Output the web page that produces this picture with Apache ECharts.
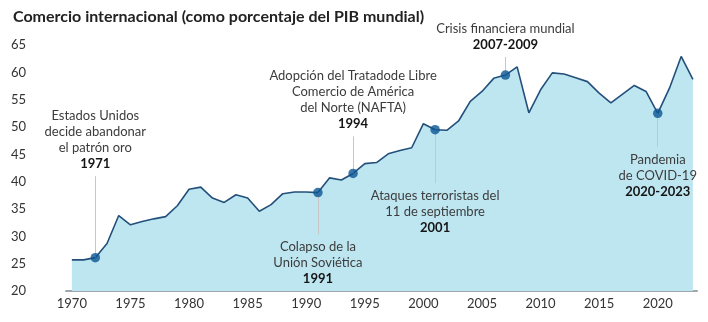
<!DOCTYPE html>
<html>
<head>
<meta charset="utf-8">
<script src="https://cdn.jsdelivr.net/npm/echarts@6/dist/echarts.min.js"></script>
<style>
html,body{margin:0;padding:0;background:#fff;}
#c{width:708px;height:322px;}
</style>
</head>
<body>
<div id="c"></div>
<script>
const years = [1970,1971,1972,1973,1974,1975,1976,1977,1978,1979,
  1980,1981,1982,1983,1984,1985,1986,1987,1988,1989,
  1990,1991,1992,1993,1994,1995,1996,1997,1998,1999,
  2000,2001,2002,2003,2004,2005,2006,2007,2008,2009,
  2010,2011,2012,2013,2014,2015,2016,2017,2018,2019,
  2020,2021,2022,2023];
const tradePct = [25.7,25.7,26.1,28.7,33.8,32.1,32.7,33.2,33.6,35.6,
  38.6,39.0,37.0,36.2,37.6,37.0,34.6,35.8,37.8,38.1,
  38.1,38.0,40.7,40.3,41.5,43.3,43.5,45.1,45.7,46.2,
  50.6,49.5,49.4,51.1,54.7,56.5,58.9,59.5,61.0,52.6,
  56.8,59.9,59.7,59.0,58.3,56.2,54.4,56.0,57.6,56.5,
  52.5,57.1,62.9,58.7];
const xTickLabels = [1970,1975,1980,1985,1990,1995,2000,2005,2010,2015,2020];
const yTicks = [20,25,30,35,40,45,50,55,60,65];

const eventYears = [1972,1991,1994,2001,2007,2020];
const eventLines = [
  ['Estados Unidos','decide abandonar','el patrón oro'],
  ['Colapso de la','Unión Soviética'],
  ['Adopción del Tratadode Libre','Comercio de América','del Norte (NAFTA)'],
  ['Ataques terroristas del','11 de septiembre'],
  ['Crisis financiera mundial'],
  ['Pandemia','de COVID-19']
];
const eventLabels = ['1971','1991','1994','2001','2007-2009','2020-2023'];

// layout of leaders (label side and leader end, in axis units)
const eventSide = ['up','down','up','down','up','down'];
const leaderEnd = [41.0,30.4,48.3,39.7,62.8,46.3];

const FONT = 'Lato';
const seriesData = years.map((y,i)=>[y,tradePct[i]]);
const dotData = eventYears.map(y=>[y,tradePct[years.indexOf(y)]]);

const markLines = dotData.map((d,i)=>[{coord:[d[0],d[1]]},{coord:[d[0],leaderEnd[i]]}]);
const markPoints = dotData.map((d,i)=>{
  const up = eventSide[i]==='up';
  let txt = eventLines[i].map(s=>'{n|'+s+'}').join('\n') + '\n{b|'+eventLabels[i]+'}';
  return {
    coord:[d[0],leaderEnd[i]],
    symbol:'circle', symbolSize:1,
    itemStyle:{color:'rgba(0,0,0,0)'},
    label:{
      show:true, position: up?'top':'bottom', distance:4,
      formatter: txt, align:'center',
      rich:{
        n:{fontFamily:FONT,fontSize:13,color:'#3c3c3c',lineHeight:16,align:'center'},
        b:{fontFamily:FONT,fontSize:13,fontWeight:'bold',color:'#151515',lineHeight:16,align:'center'}
      }
    }
  };
});

const chart = echarts.init(document.getElementById('c'), null, {renderer:'canvas'});
chart.setOption({
  animation:false,
  backgroundColor:'#ffffff',
  title:{
    text:'Comercio internacional (como porcentaje del PIB mundial)',
    left:8, top:4,
    textStyle:{fontFamily:FONT,fontSize:16,fontWeight:'bold',color:'#222'}
  },
  grid:{left:66,right:11,top:45,bottom:31,containLabel:false},
  xAxis:{
    type:'value', min:1969.5, max:2023.35,
    axisLine:{show:true,lineStyle:{color:'#9ea7ac',width:2}},
    axisTick:{show:false},
    splitLine:{show:false},
    axisLabel:{
      customValues:xTickLabels,
      fontFamily:FONT,fontSize:13,color:'#333',margin:6,
      formatter:v=>String(v)
    }
  },
  yAxis:{
    type:'value', min:20, max:65, interval:5,
    axisLine:{show:false}, axisTick:{show:false}, splitLine:{show:false},
    axisLabel:{fontFamily:FONT,fontSize:13,color:'#333',margin:40}
  },
  series:[
    {
      type:'line', data:seriesData, symbol:'none', z:2,
      lineStyle:{color:'#23507a',width:1.6},
      areaStyle:{color:'#bee6f1',opacity:1},
      markLine:{
        silent:true, symbol:'none',
        lineStyle:{color:'#c6c6c6',width:1,type:'solid'},
        label:{show:false},
        data:markLines
      },
      markPoint:{silent:true,data:markPoints}
    },
    {
      type:'scatter', data:dotData, symbol:'circle', symbolSize:9.5, z:5,
      itemStyle:{color:'#0b5594'}
    }
  ]
});
</script>
</body>
</html>
